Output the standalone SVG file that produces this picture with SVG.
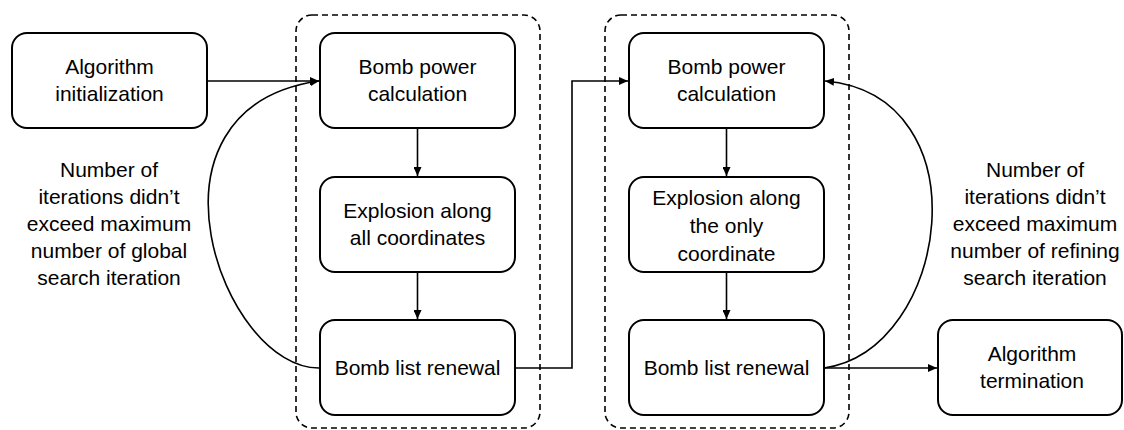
<svg xmlns="http://www.w3.org/2000/svg" width="1124" height="430" viewBox="0 0 1124 430">
<style>
.box{fill:#fff;stroke:#000;stroke-width:2}
.grp{fill:none;stroke:#000;stroke-width:1.6;stroke-dasharray:6 4}
.c{fill:none;stroke:#000;stroke-width:1.6}
text{font-family:"Liberation Sans",Arial,sans-serif;font-size:21px;fill:#000;text-anchor:middle}
</style>
<defs>
<marker id="ah" markerUnits="userSpaceOnUse" markerWidth="10" markerHeight="8" refX="9" refY="4" orient="auto">
<path d="M0,0 L9,4 L0,8 z" fill="#000"/>
</marker>
</defs>
<rect width="1124" height="430" fill="#fff"/>
<g id="group1"><rect class="grp" x="296" y="15" width="244" height="413" rx="16"/></g>
<g id="group2"><rect class="grp" x="605" y="15" width="244" height="413" rx="16"/></g>
<g id="connectors">
<path class="c" d="M207,81 H319" marker-end="url(#ah)"/>
<path class="c" d="M417.5,128 V176" marker-end="url(#ah)"/>
<path class="c" d="M417.5,272 V319" marker-end="url(#ah)"/>
<path class="c" d="M320,368 C222,370 128,108 319,81" marker-end="url(#ah)"/>
<path class="c" d="M515,368 H572 V81 H628" marker-end="url(#ah)"/>
<path class="c" d="M726.5,128 V176" marker-end="url(#ah)"/>
<path class="c" d="M726.5,272 V319" marker-end="url(#ah)"/>
<path class="c" d="M824,368 C950,350 985,95 825,81" marker-end="url(#ah)"/>
<path class="c" d="M824,368 H937" marker-end="url(#ah)"/>
</g>
<g id="init"><rect class="box" x="12" y="33" width="195" height="95" rx="15"/><text x="109.5" y="74">Algorithm</text><text x="109.5" y="101">initialization</text></g>
<g id="bpc1"><rect class="box" x="320" y="33" width="195" height="95" rx="15"/><text x="417.5" y="74">Bomb power</text><text x="417.5" y="101">calculation</text></g>
<g id="expl1"><rect class="box" x="320" y="177" width="195" height="95" rx="15"/><text x="417.5" y="218">Explosion along</text><text x="417.5" y="245">all coordinates</text></g>
<g id="ren1"><rect class="box" x="320" y="320" width="195" height="95" rx="15"/><text x="417.5" y="375">Bomb list renewal</text></g>
<g id="bpc2"><rect class="box" x="629" y="33" width="195" height="95" rx="15"/><text x="726.5" y="74">Bomb power</text><text x="726.5" y="101">calculation</text></g>
<g id="expl2"><rect class="box" x="629" y="177" width="195" height="95" rx="15"/><text x="726.5" y="205">Explosion along</text><text x="726.5" y="233">the only</text><text x="726.5" y="261">coordinate</text></g>
<g id="ren2"><rect class="box" x="629" y="320" width="195" height="95" rx="15"/><text x="726.5" y="375">Bomb list renewal</text></g>
<g id="term"><rect class="box" x="938" y="320" width="184" height="95" rx="15"/><text x="1032" y="361">Algorithm</text><text x="1032" y="388">termination</text></g>
<g id="label-left"><text x="109" y="177">Number of</text><text x="109" y="204">iterations didn’t</text><text x="109" y="231">exceed maximum</text><text x="109" y="258">number of global</text><text x="109" y="285">search iteration</text></g>
<g id="label-right"><text x="1035" y="177">Number of</text><text x="1035" y="204">iterations didn’t</text><text x="1035" y="231">exceed maximum</text><text x="1035" y="258">number of refining</text><text x="1035" y="285">search iteration</text></g>
</svg>
